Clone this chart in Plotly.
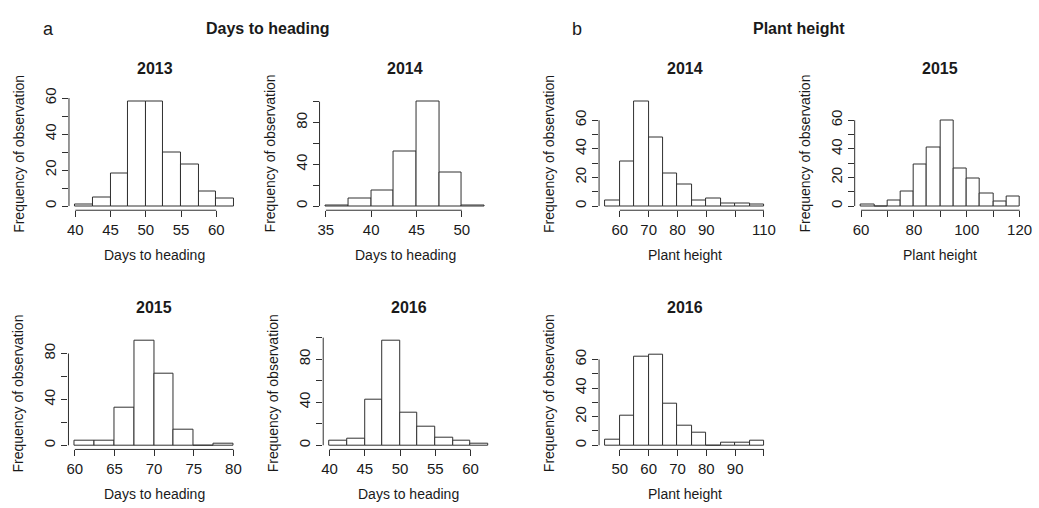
import plotly.graph_objects as go

# ---- data: histogram breaks and counts per trait and year ----
dth_2013_breaks = [40, 42.5, 45, 47.5, 50, 52.5, 55, 57.5, 60, 62.5]
dth_2013_counts = [1, 5, 18, 58, 58, 30, 23, 8, 4]

dth_2014_breaks = [35, 37.5, 40, 42.5, 45, 47.5, 50, 52.5]
dth_2014_counts = [1, 7, 15, 52, 100, 32, 1]

dth_2015_breaks = [60, 62.5, 65, 67.5, 70, 72.5, 75, 77.5, 80]
dth_2015_counts = [4, 4, 33, 91, 62, 14, 0, 1]

dth_2016_breaks = [40, 42.5, 45, 47.5, 50, 52.5, 55, 57.5, 60, 62.5]
dth_2016_counts = [4, 6, 42, 97, 30, 17, 7, 4, 1]

ph_2014_breaks = [55, 60, 65, 70, 75, 80, 85, 90, 95, 100, 105, 110]
ph_2014_counts = [4, 31, 73, 48, 23, 15, 4, 5, 2, 2, 1]

ph_2015_breaks = [60, 65, 70, 75, 80, 85, 90, 95, 100, 105, 110, 115, 120]
ph_2015_counts = [1, 0, 4, 10, 29, 41, 60, 26, 19, 9, 3, 7]

ph_2016_breaks = [45, 50, 55, 60, 65, 70, 75, 80, 85, 90, 95, 100]
ph_2016_counts = [4, 21, 62, 63, 29, 14, 9, 0, 2, 2, 3]

# axis ticks (value, label); empty label = unlabelled tick
dth_2013_xticks = [40, 45, 50, 55, 60]
dth_2014_xticks = [35, 40, 45, 50]
dth_2015_xticks = [60, 65, 70, 75, 80]
dth_2016_xticks = [40, 45, 50, 55, 60]
ph_2014_xticks = [60, 70, 80, 90, 100, 110]
ph_2014_xlabels = ["60", "70", "80", "90", "", "110"]
ph_2015_xticks = [60, 70, 80, 90, 100, 110, 120]
ph_2015_xlabels = ["60", "", "80", "", "100", "", "120"]
ph_2016_xticks = [50, 60, 70, 80, 90, 100]
ph_2016_xlabels = ["50", "60", "70", "80", "90", ""]

yticks_60 = [0, 10, 20, 30, 40, 50, 60]
ylabels_60 = ["0", "", "20", "", "40", "", "60"]
yticks_100 = [0, 20, 40, 60, 80, 100]
ylabels_100 = ["0", "", "40", "", "80", ""]
yticks_80 = [0, 20, 40, 60, 80]
ylabels_80 = ["0", "", "40", "", "80"]

DTH = "Days to heading"
PH = "Plant height"

panels = [
    dict(title="2013", xlab=DTH, breaks=dth_2013_breaks, counts=dth_2013_counts,
         xt=dth_2013_xticks, xl=[str(v) for v in dth_2013_xticks],
         yt=yticks_60, yl=ylabels_60, ylim=58, left=67.5, base=200),
    dict(title="2014", xlab=DTH, breaks=dth_2014_breaks, counts=dth_2014_counts,
         xt=dth_2014_xticks, xl=[str(v) for v in dth_2014_xticks],
         yt=yticks_100, yl=ylabels_100, ylim=100, left=320, base=200),
    dict(title="2014", xlab=PH, breaks=ph_2014_breaks, counts=ph_2014_counts,
         xt=ph_2014_xticks, xl=ph_2014_xlabels,
         yt=yticks_60, yl=ylabels_60, ylim=73, left=601.7, base=200),
    dict(title="2015", xlab=PH, breaks=ph_2015_breaks, counts=ph_2015_counts,
         xt=ph_2015_xticks, xl=ph_2015_xlabels,
         yt=yticks_60, yl=ylabels_60, ylim=73, left=859.3, base=200),
    dict(title="2015", xlab=DTH, breaks=dth_2015_breaks, counts=dth_2015_counts,
         xt=dth_2015_xticks, xl=[str(v) for v in dth_2015_xticks],
         yt=yticks_80, yl=ylabels_80, ylim=91, left=67, base=444),
    dict(title="2016", xlab=DTH, breaks=dth_2016_breaks, counts=dth_2016_counts,
         xt=dth_2016_xticks, xl=[str(v) for v in dth_2016_xticks],
         yt=yticks_100, yl=ylabels_100, ylim=97, left=323.7, base=444),
    dict(title="2016", xlab=PH, breaks=ph_2016_breaks, counts=ph_2016_counts,
         xt=ph_2016_xticks, xl=ph_2016_xlabels,
         yt=yticks_60, yl=ylabels_60, ylim=73, left=601.7, base=444),
]

FW, FH = 1039, 508
PW, PH_PX = 172.6, 115.0          # plot region size in px
FONT = "Liberation Sans, Arial, sans-serif"
INK = "#1a1a1a"
LINE = "#303030"

fig = go.Figure()
layout = {}
shapes = []
annotations = []

for i, p in enumerate(panels, start=1):
    sx = "" if i == 1 else str(i)
    xa, ya = "x" + sx, "y" + sx
    b, c = p["breaks"], p["counts"]
    centers = [(b[k] + b[k + 1]) / 2 for k in range(len(c))]
    widths = [b[k + 1] - b[k] for k in range(len(c))]

    fig.add_trace(go.Bar(
        x=centers, y=c, width=widths, xaxis=xa, yaxis=ya,
        marker=dict(color="white", line=dict(color=LINE, width=1)),
        showlegend=False, hoverinfo="x+y",
    ))

    # R-style 4% padding around the data range
    xr = b[-1] - b[0]
    xrange = [b[0] - 0.04 * xr, b[-1] + 0.04 * xr]
    yrange = [-0.04 * p["ylim"], 1.04 * p["ylim"]]

    axis_px = p["base"] + 0.04 * PH_PX / 1.08
    top_px = axis_px - PH_PX
    xdom = [p["left"] / FW, (p["left"] + PW) / FW]
    ydom = [1 - axis_px / FH, 1 - top_px / FH]

    common = dict(showgrid=False, zeroline=False, showline=False,
                  ticks="outside", ticklen=6, tickwidth=1, tickcolor=LINE,
                  tickfont=dict(family=FONT, size=15, color=INK), fixedrange=True)
    layout["xaxis" + sx] = dict(domain=xdom, range=xrange, anchor=ya,
                                tickmode="array", tickvals=p["xt"], ticktext=p["xl"],
                                tickangle=0, **common)
    layout["yaxis" + sx] = dict(domain=ydom, range=yrange, anchor=xa,
                                tickmode="array", tickvals=p["yt"], ticktext=p["yl"],
                                tickangle=-90, **common)

    # axis lines spanning first to last tick
    shapes.append(dict(type="line", xref=xa, yref=ya + " domain",
                       x0=p["xt"][0], x1=p["xt"][-1], y0=0, y1=0,
                       line=dict(color=LINE, width=1)))
    shapes.append(dict(type="line", xref=xa + " domain", yref=ya,
                       x0=0, x1=0, y0=p["yt"][0], y1=p["yt"][-1],
                       line=dict(color=LINE, width=1)))

    annotations.append(dict(text="<b>%s</b>" % p["title"], xref=xa + " domain",
                            yref=ya + " domain", x=0.5, y=1, yshift=29,
                            xanchor="center", yanchor="middle", showarrow=False,
                            font=dict(family=FONT, size=16, color=INK)))
    annotations.append(dict(text=p["xlab"], xref=xa + " domain",
                            yref=ya + " domain", x=0.5, y=0, yshift=-45,
                            xanchor="center", yanchor="middle", showarrow=False,
                            font=dict(family=FONT, size=14, color=INK)))
    annotations.append(dict(text="Frequency of observation", xref=xa + " domain",
                            yref=ya + " domain", x=0, y=0.5, xshift=-50,
                            xanchor="center", yanchor="middle", textangle=-90,
                            showarrow=False,
                            font=dict(family=FONT, size=14, color=INK)))

# panel group headers
for txt, xpx, bold, size in [("a", 47, False, 18), ("Days to heading", 268, True, 16),
                             ("b", 579, False, 18), ("Plant height", 803, True, 16)]:
    annotations.append(dict(text=("<b>%s</b>" % txt) if bold else txt,
                            xref="paper", yref="paper", x=xpx / FW, y=1 - 19 / FH,
                            xanchor="center", yanchor="middle", showarrow=False,
                            font=dict(family=FONT, size=size, color=INK)))

fig.update_layout(
    width=FW, height=FH, margin=dict(l=0, r=0, t=0, b=0),
    paper_bgcolor="white", plot_bgcolor="white",
    bargap=0, shapes=shapes, annotations=annotations, **layout,
)

fig.write_html("out.html")
